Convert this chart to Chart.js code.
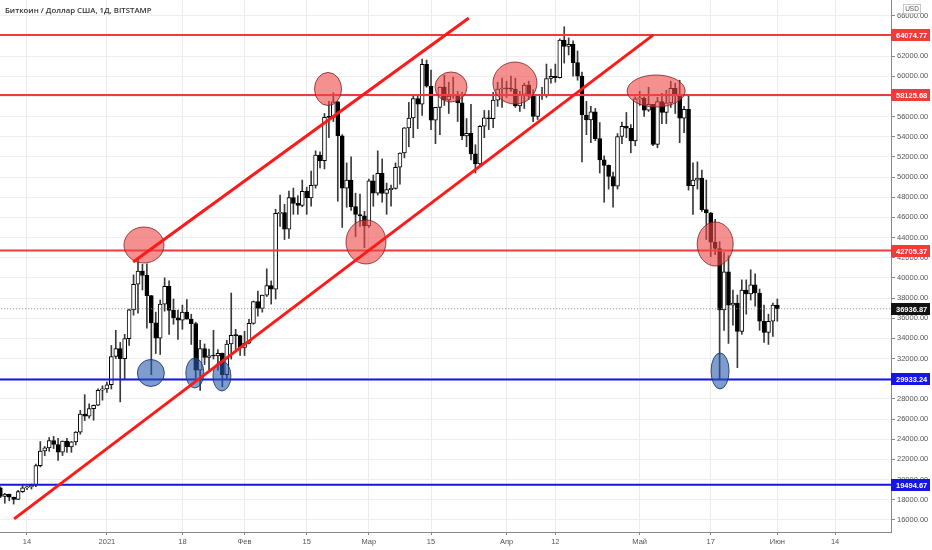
<!DOCTYPE html>
<html>
<head>
<meta charset="utf-8">
<script src="https://cdn.jsdelivr.net/npm/chart.js@4.4.1/dist/chart.umd.min.js"></script>
<style>
  html, body { margin: 0; padding: 0; background: #fff; }
  canvas { display: block; }
</style>
</head>
<body>
<canvas id="myChart" width="932" height="550"></canvas>
<script>
// daily candles, BTC/USD Bitstamp
const dates = [
  "2020-12-08","2020-12-09","2020-12-10","2020-12-11","2020-12-12","2020-12-13","2020-12-14","2020-12-15",
  "2020-12-16","2020-12-17","2020-12-18","2020-12-19","2020-12-20","2020-12-21","2020-12-22","2020-12-23",
  "2020-12-24","2020-12-25","2020-12-26","2020-12-27","2020-12-28","2020-12-29","2020-12-30","2020-12-31",
  "2021-01-01","2021-01-02","2021-01-03","2021-01-04","2021-01-05","2021-01-06","2021-01-07","2021-01-08",
  "2021-01-09","2021-01-10","2021-01-11","2021-01-12","2021-01-13","2021-01-14","2021-01-15","2021-01-16",
  "2021-01-17","2021-01-18","2021-01-19","2021-01-20","2021-01-21","2021-01-22","2021-01-23","2021-01-24",
  "2021-01-25","2021-01-26","2021-01-27","2021-01-28","2021-01-29","2021-01-30","2021-01-31",
  "2021-02-01","2021-02-02","2021-02-03","2021-02-04","2021-02-05","2021-02-06","2021-02-07","2021-02-08",
  "2021-02-09","2021-02-10","2021-02-11","2021-02-12","2021-02-13","2021-02-14","2021-02-15","2021-02-16",
  "2021-02-17","2021-02-18","2021-02-19","2021-02-20","2021-02-21","2021-02-22","2021-02-23","2021-02-24",
  "2021-02-25","2021-02-26","2021-02-27","2021-02-28",
  "2021-03-01","2021-03-02","2021-03-03","2021-03-04","2021-03-05","2021-03-06","2021-03-07","2021-03-08",
  "2021-03-09","2021-03-10","2021-03-11","2021-03-12","2021-03-13","2021-03-14","2021-03-15","2021-03-16",
  "2021-03-17","2021-03-18","2021-03-19","2021-03-20","2021-03-21","2021-03-22","2021-03-23","2021-03-24",
  "2021-03-25","2021-03-26","2021-03-27","2021-03-28","2021-03-29","2021-03-30","2021-03-31",
  "2021-04-01","2021-04-02","2021-04-03","2021-04-04","2021-04-05","2021-04-06","2021-04-07","2021-04-08",
  "2021-04-09","2021-04-10","2021-04-11","2021-04-12","2021-04-13","2021-04-14","2021-04-15","2021-04-16",
  "2021-04-17","2021-04-18","2021-04-19","2021-04-20","2021-04-21","2021-04-22","2021-04-23","2021-04-24",
  "2021-04-25","2021-04-26","2021-04-27","2021-04-28","2021-04-29","2021-04-30",
  "2021-05-01","2021-05-02","2021-05-03","2021-05-04","2021-05-05","2021-05-06","2021-05-07","2021-05-08",
  "2021-05-09","2021-05-10","2021-05-11","2021-05-12","2021-05-13","2021-05-14","2021-05-15","2021-05-16",
  "2021-05-17","2021-05-18","2021-05-19","2021-05-20","2021-05-21","2021-05-22","2021-05-23","2021-05-24",
  "2021-05-25","2021-05-26","2021-05-27","2021-05-28","2021-05-29","2021-05-30","2021-05-31",
  "2021-06-01"
];
const opens = [
  19170,18330,18550,18250,18040,18810,19170,19270,19440,21380,22830,23140,23870,23480,22720,23820,
  23240,23730,24710,26490,26280,27040,27370,28860,
  28990,29400,32200,33000,31980,33970,36820,39370,40670,40240,38240,35540,34010,37390,39150,36780,
  36040,35810,36610,35910,35460,30850,33000,32100,32260,32250,32520,30400,33440,34300,34280,
  33100,33520,35480,37640,36960,38290,39240,38880,46400,46470,44840,47970,47390,47180,48590,47930,
  49170,52170,51620,55930,55920,57450,54090,48890,49700,47060,46280,46150,
  45140,49630,48400,50370,48370,48750,48880,50970,52380,54880,55850,57790,57220,61180,59000,55630,
  56900,58910,57640,58030,58100,57350,54080,54340,52300,51300,55030,55860,55780,57630,58730,
  58780,58740,58720,57060,58200,59120,58020,56000,58090,58090,59770,59990,59860,63580,62960,63160,
  61340,60000,56150,55650,56470,53800,51700,51150,50050,49100,54020,55030,54840,53570,
  57750,57830,56630,57210,53240,57470,56400,57360,58800,58230,55840,56700,49150,49700,49900,46760,
  46430,43540,42910,36830,40600,37300,37500,34700,38800,38400,39300,38500,35700,34600,35700,
  37300
];
const highs = [
  19280,18640,18560,18270,18940,19410,19330,19560,21540,23770,23280,24170,24280,24100,23830,24100,
  23780,24770,26860,28420,27500,27400,28990,29300,
  29660,33300,34800,33600,34400,36900,40300,41950,41350,41400,38260,36600,37800,40000,39700,37900,
  36800,37300,37850,36400,35600,33800,33450,32950,34800,32900,32550,33800,38500,34900,34300,
  34700,35900,37700,38700,38300,40900,39700,46800,48200,47300,48600,48900,48150,49700,49000,50600,
  52600,52500,56300,57500,58350,57500,54200,51400,52000,48400,48300,46600,
  49800,50200,52600,51800,49400,49200,51400,52400,54900,57400,58100,58000,61700,61600,60600,56900,
  58950,60100,59400,59900,58500,58400,55800,57200,53200,55100,56600,56600,58400,59400,59800,
  59500,60000,59800,58500,59300,59500,58650,58200,58900,61200,60700,61200,63700,64900,63800,63500,
  62500,60400,57500,57000,56800,55400,52100,51200,50500,54300,55450,56400,55200,57950,
  58500,57950,58900,57200,57900,58300,58600,59500,59300,59600,57000,58000,51400,51500,50700,49700,
  46500,45800,43600,42500,42200,38800,38300,39800,39800,40800,40400,38900,37300,36400,37500,
  37900
];
const lows = [
  18200,17650,17910,17570,18020,18720,19000,19060,19300,21250,22360,22800,23070,21900,22380,22700,
  22700,23430,24500,25850,26100,25880,27330,27870,
  28630,28980,32000,27700,29900,33300,36300,36500,38800,35000,30400,32500,32400,36700,34400,35400,
  33900,34900,35900,33400,30070,28850,31400,30900,31950,30850,29200,29900,31950,32900,32300,
  32300,33450,35400,36200,36600,38150,37400,37900,45100,43800,43900,46300,46300,47050,46300,47100,
  48900,50900,50800,53900,55500,47600,45000,47000,46700,44100,45100,43000,
  45000,47100,48200,47500,46300,47100,48800,49300,51900,53000,53900,54800,56100,58900,54700,53300,
  54200,57100,56300,57800,55500,53700,53000,51700,50400,51200,53900,54700,54900,57000,56900,
  57900,58500,56900,56500,56800,57700,55500,55700,57700,57900,59300,59400,59800,61300,62100,60000,
  59600,51500,54200,53400,53600,50400,47500,48800,47000,48800,53300,53900,52400,53100,
  57100,56000,56500,53100,52900,55300,55300,56900,56300,53400,54400,48700,46300,48800,46600,43800,
  42100,42300,30000,34800,33500,35300,31100,34400,36400,37800,37200,34800,33600,33400,34200,
  35700
];
const closes = [
  18330,18550,18250,18040,18810,19170,19270,19440,21380,22830,23140,23870,23480,22720,23820,23240,
  23730,24710,26490,26280,27040,27370,28860,28990,
  29400,32200,33000,31980,33970,36820,39370,40670,40240,38240,35540,34010,37390,39150,36780,36040,
  35810,36610,35910,35460,30850,33000,32100,32260,32250,32520,30400,33440,34300,34280,33100,
  33520,35480,37640,36960,38290,39240,38880,46400,46470,44840,47970,47390,47180,48590,47930,49170,
  52170,51620,55930,55920,57450,54090,48890,49700,47060,46280,46150,45140,
  49630,48400,50370,48370,48750,48880,50970,52380,54880,55850,57790,57220,61180,59000,55630,56900,
  58910,57640,58030,58100,57350,54080,54340,52300,51300,55030,55860,55780,57630,58730,58780,
  58740,58720,57060,58200,59120,58020,56000,58090,58090,59770,59990,59860,63580,62960,63160,61340,
  60000,56150,55650,56470,53800,51700,51150,50050,49100,54020,55030,54840,53570,57750,
  57830,56630,57210,53240,57470,56400,57360,58800,58230,55840,56700,49150,49700,49900,46760,46430,
  43540,42910,36830,40600,37300,37500,34700,38800,38400,39300,38500,35700,34600,35700,37300,
  36936.87
];

// x axis labels
const tickDates = ["2020-12-14","2021-01-01","2021-01-18","2021-02-01","2021-02-15","2021-03-01",
  "2021-03-15","2021-04-01","2021-04-12","2021-05-01","2021-05-17","2021-06-01","2021-06-14"];
const tickLabels = ["14","2021","18","Фев","15","Мар","15","Апр","12","Май","17","Июн","14"];
const priceTicks = [16000,18000,20000,22000,24000,26000,28000,30000,32000,34000,36000,38000,
  40000,42000,44000,46000,48000,50000,52000,54000,56000,58000,60000,62000,64000,66000];

// drawn levels
const redLevels = [64074.77, 58125.68, 42705.37];
const blueLevels = [29933.24, 19494.67];
const lastPrice = 36936.87;

// channel lines: [day, price] pairs, day counted from 14 Dec 2020
const lowerChannel = [[-2.9, 16100], [141.0, 64075]];
const upperChannel = [[23.9, 41570], [99.5, 65770]];

// marked zones: center day, center price, radius x / y in px
const redZones = [
  [26.35, 43260, 20, 18], [67.8, 58730, 13.5, 16.5], [76.35, 43560, 20, 22],
  [95.5, 58930, 16, 15], [109.9, 59320, 22, 21], [141.7, 58530, 29, 16], [155.0, 43360, 18, 22]
];
const blueZones = [
  [27.9, 30570, 13.5, 13.5], [37.8, 30570, 9, 15], [43.9, 30270, 9, 15], [156.1, 30770, 9, 18]
];

const START = Date.UTC(2020, 11, 14);
function dayOf(s) {
  const p = s.split("-").map(Number);
  return (Date.UTC(p[0], p[1] - 1, p[2]) - START) / 86400000;
}
const tickDays = tickDates.map(dayOf);
const FONT = "'Liberation Sans', Arial, sans-serif";

function levelLine(v, color, width, dash) {
  return {
    type: "line",
    data: [{ x: -20, y: v }, { x: 260, y: v }],
    borderColor: color,
    borderWidth: width,
    borderDash: dash || [],
    pointRadius: 0,
    order: 3,
  };
}
function channelLine(pts, order) {
  return {
    type: "line",
    data: pts.map((p) => ({ x: p[0], y: p[1] })),
    borderColor: "#ff1a1a",
    borderWidth: 3,
    pointRadius: 0,
    order: order,
    zonesBefore: order === 1,
  };
}

// ellipses go between the level lines and the channel lines
const zonesPlugin = {
  id: "zones",
  beforeDatasetDraw(chart, args) {
    if (!chart.data.datasets[args.index].zonesBefore) return;
    const ctx = chart.ctx;
    const xs = chart.scales.x, ys = chart.scales.y;
    ctx.save();
    const draw = (list, fill, stroke) => {
      list.forEach((z) => {
        ctx.beginPath();
        ctx.ellipse(xs.getPixelForValue(z[0]), ys.getPixelForValue(z[1]), z[2], z[3], 0, 0, Math.PI * 2);
        ctx.fillStyle = fill;
        ctx.fill();
        ctx.lineWidth = 1;
        ctx.strokeStyle = stroke;
        ctx.stroke();
      });
    };
    draw(redZones, "rgba(236,70,70,0.6)", "rgba(130,30,30,0.8)");
    draw(blueZones, "rgba(40,90,170,0.6)", "rgba(30,50,110,0.85)");
    ctx.restore();
  },
};

// price tags on the right axis, title, USD box
const tagsPlugin = {
  id: "tags",
  afterDraw(chart) {
    const ctx = chart.ctx;
    const ys = chart.scales.y;
    const left = chart.chartArea.right;
    ctx.save();
    const tag = (v, bg) => {
      const y = Math.round(ys.getPixelForValue(v));
      ctx.fillStyle = bg;
      ctx.fillRect(left, y - 6, 39, 12);
      ctx.fillStyle = "#fff";
      ctx.font = "bold 7.5px " + FONT;
      ctx.textBaseline = "middle";
      ctx.textAlign = "left";
      ctx.fillText(v.toFixed(2), left + 5, y + 0.5);
    };
    redLevels.forEach((v) => tag(v, "#ef3b3b"));
    blueLevels.forEach((v) => tag(v, "#1515e6"));
    tag(lastPrice, "#111");

    ctx.fillStyle = "#fff";
    ctx.fillRect(903, 4, 18, 10);
    ctx.strokeStyle = "#c8c8c8";
    ctx.lineWidth = 1;
    ctx.strokeRect(903.5, 4.5, 17, 9);
    ctx.fillStyle = "#555";
    ctx.font = "6.5px " + FONT;
    ctx.textAlign = "center";
    ctx.textBaseline = "middle";
    ctx.fillText("USD", 912, 9.3);

    ctx.fillStyle = "#333";
    ctx.font = "600 7.8px 'Open Sans', sans-serif";
    ctx.textAlign = "left";
    ctx.fillText("Биткоин / Доллар США, 1Д, BITSTAMP", 5, 11);
    ctx.restore();
  },
};

const ctx = document.getElementById("myChart").getContext("2d");
const myChart = new Chart(ctx, {
  type: "bar",
  data: {
    datasets: [
      {
        // wicks
        data: dates.map((d, i) => ({ x: dayOf(d), y: [lows[i], highs[i]] })),
        backgroundColor: "#3a3a3a",
        borderWidth: 0,
        barThickness: 1,
        grouped: false,
        order: 5,
      },
      {
        // bodies
        data: dates.map((d, i) => ({ x: dayOf(d), y: [opens[i], closes[i]] })),
        backgroundColor: (c) => (closes[c.dataIndex] >= opens[c.dataIndex] ? "#ffffff" : "#000000"),
        borderColor: "#000",
        borderWidth: 1,
        borderSkipped: false,
        barThickness: 4,
        minBarLength: 1,
        grouped: false,
        order: 4,
      },
      ...redLevels.map((v) => levelLine(v, "#ef3b3b", 2)),
      ...blueLevels.map((v) => levelLine(v, "#1515e6", 2)),
      levelLine(lastPrice, "#8a8a8a", 1, [1, 2]),
      channelLine(lowerChannel, 1),
      channelLine(upperChannel, 0),
    ],
  },
  options: {
    responsive: false,
    animation: false,
    events: [],
    layout: { padding: 0 },
    plugins: { legend: { display: false }, tooltip: { enabled: false }, title: { display: false } },
    scales: {
      x: {
        type: "linear",
        min: -6.08,
        max: 194.6,
        offset: false,
        grid: { offset: false, color: "#ececec", tickLength: 3, tickColor: "#888" },
        border: { color: "#8a8a8a" },
        afterBuildTicks: (s) => { s.ticks = tickDays.map((v) => ({ value: v })); },
        afterFit: (s) => { s.height = 18; s.paddingLeft = 0; s.paddingRight = 0; },
        ticks: {
          autoSkip: false,
          maxRotation: 0,
          padding: 2,
          color: "#555",
          font: { family: FONT, size: 7.5 },
          callback: (v) => tickLabels[tickDays.indexOf(v)],
        },
      },
      y: {
        position: "right",
        min: 14801,
        max: 67553,
        grid: { color: "#efefef", tickLength: 4, tickColor: "#888" },
        border: { color: "#8a8a8a" },
        afterBuildTicks: (s) => { s.ticks = priceTicks.map((v) => ({ value: v })); },
        afterFit: (s) => { s.width = 41; s.paddingTop = 0; s.paddingBottom = 0; },
        ticks: {
          padding: 2,
          color: "#555",
          font: { family: FONT, size: 7.5 },
          callback: (v) => v.toFixed(2),
        },
      },
    },
  },
  plugins: [zonesPlugin, tagsPlugin],
});
</script>
</body>
</html>
